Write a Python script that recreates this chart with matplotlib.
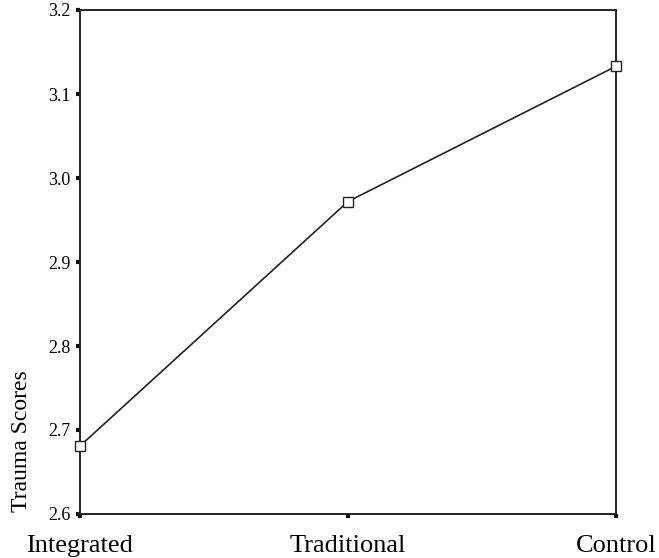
import numpy as np
import matplotlib.pyplot as plt

groups = ["Integrated", "Traditional", "Control"]
trauma_scores = [2.681, 2.972, 3.133]
y_ticks = [2.6, 2.7, 2.8, 2.9, 3.0, 3.1, 3.2]

plt.rcParams['font.family'] = ['Liberation Serif', 'DejaVu Serif']

fig = plt.figure(figsize=(6.59, 5.58), dpi=100)
ax = fig.add_axes([80 / 659, 1 - 514 / 558, 536 / 659, 504 / 558])

x = np.arange(len(groups))
ax.plot(x, trauma_scores, color='#222222', linewidth=1.2,
        marker='s', markersize=7, markerfacecolor='white',
        markeredgecolor='#222222', markeredgewidth=1.0, clip_on=False, zorder=3)

ax.set_xlim(0, len(groups) - 1)
ax.set_ylim(2.6, 3.2)
ax.set_xticks(x)
ax.set_xticklabels(groups, fontsize=19)
ax.set_yticks(y_ticks)
ax.set_yticklabels([f"{v:.1f}" for v in y_ticks], fontsize=13)

ax.tick_params(axis='both', direction='out', length=3, width=3, color='#111111')
ax.tick_params(axis='x', pad=12)
ax.tick_params(axis='y', pad=4)

for s in ax.spines.values():
    s.set_linewidth(1.4)
    s.set_color('#222222')

fig.text(22 / 659, 1 - 512 / 558, "Trauma Scores", rotation=90,
         ha='center', va='bottom', fontsize=17)

fig.savefig("out.png", dpi=100)
